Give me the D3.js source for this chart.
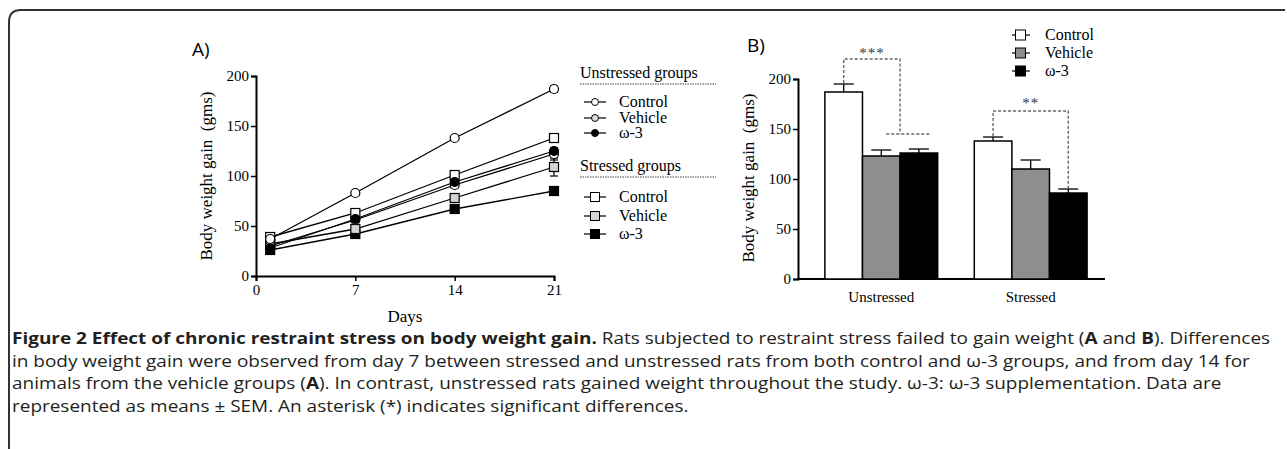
<!DOCTYPE html>
<html><head><meta charset="utf-8">
<script src="https://cdn.jsdelivr.net/npm/d3@7"></script>
<style>body{margin:0;background:#fff;}svg{display:block;}</style>
</head><body>
<svg id="c" width="1287" height="449"></svg>
<script>
// ---------- DATA ----------
const days = [1, 7, 14, 21];
const dayTicks = [0, 7, 14, 21];
const yTicks = [0, 50, 100, 150, 200];
const unstressedControl = [37, 83, 138, 187];
const unstressedVehicle = [30, 56, 91, 122];
const unstressedOmega = [28, 57, 94, 125];
const stressedControl = [39, 63, 101, 138];
const stressedVehicle = [32, 47, 78, 109];
const stressedOmega = [26, 42, 67, 85];
const unstressedControlErr = [2, 2, 2, 3];
const unstressedVehicleErr = [2, 2, 3, 6];
const unstressedOmegaErr = [2, 2, 2, 3];
const stressedControlErr = [2, 2, 2, 3];
const stressedVehicleErr = [2, 2, 4, 9];
const stressedOmegaErr = [2, 2, 2, 3];
const barGroups = ["Unstressed", "Stressed"];
const barSeries = ["Control", "Vehicle", "ω-3"];
const barUnstressed = [187, 123, 126];
const barUnstressedErr = [8, 6, 4];
const barStressed = [138, 110, 86];
const barStressedErr = [4, 9, 4];
const legendNames = ["Control", "Vehicle", "ω-3"];
const captionLines = [
  ["Figure 2 Effect of chronic restraint stress on body weight gain.", " Rats subjected to restraint stress failed to gain weight (", "A", " and ", "B", "). Differences"],
  ["in body weight gain were observed from day 7 between stressed and unstressed rats from both control and ω-3 groups, and from day 14 for"],
  ["animals from the vehicle groups (", "A", "). In contrast, unstressed rats gained weight throughout the study. ω-3: ω-3 supplementation. Data are"],
  ["represented as means ± SEM. An asterisk (*) indicates significant differences."]
];

const svg = d3.select("#c");
const serif = "'Liberation Serif','Times New Roman',serif";
const sans = "'Open Sans','Liberation Sans',sans-serif";

// frame
svg.append("path").attr("d", "M9,449 V22 Q9,10 21,10 H1285")
  .attr("fill", "none").attr("stroke", "#333").attr("stroke-width", 2);

// ---------- PANEL A ----------
const xA = d3.scaleLinear().domain([0, 21]).range([256, 554]);
const yA = d3.scaleLinear().domain([0, 200]).range([276, 76]);
const gA = svg.append("g");
function styleAxis(g) {
  g.selectAll("path.domain").attr("stroke", "#000").attr("stroke-width", 2);
  g.selectAll(".tick line").attr("stroke", "#000").attr("stroke-width", 1.5);
  g.selectAll(".tick text").attr("font-family", serif).attr("font-size", 15).attr("fill", "#000");
}
gA.append("g").attr("transform", "translate(256,0)")
  .call(d3.axisLeft(yA).tickValues(yTicks).tickSizeOuter(0).tickSize(5).tickPadding(2)).call(styleAxis);
gA.append("g").attr("transform", "translate(0,276)")
  .call(d3.axisBottom(xA).tickValues(dayTicks).tickSizeOuter(0).tickSize(5).tickPadding(3)).call(styleAxis);
gA.append("text").attr("x", 405).attr("y", 322).attr("text-anchor", "middle")
  .attr("font-family", serif).attr("font-size", 17).text("Days");
gA.append("text").attr("transform", "translate(212,176) rotate(-90)").attr("text-anchor", "middle")
  .attr("font-family", serif).attr("font-size", 17).attr("xml:space", "preserve").text("Body weight gain  (gms)");
svg.append("text").attr("x", 192).attr("y", 56).attr("font-family", sans).attr("font-size", 19).text("A)");

const seriesA = [
  {v: stressedOmega, e: stressedOmegaErr, shape: "square", fill: "#000"},
  {v: stressedVehicle, e: stressedVehicleErr, shape: "square", fill: "#d4d4d4"},
  {v: stressedControl, e: stressedControlErr, shape: "square", fill: "#fff"},
  {v: unstressedVehicle, e: unstressedVehicleErr, shape: "circle", fill: "#fff"},
  {v: unstressedOmega, e: unstressedOmegaErr, shape: "circle", fill: "#000"},
  {v: unstressedControl, e: unstressedControlErr, shape: "circle", fill: "#fff"}
];
const line = d3.line().x((d, i) => xA(days[i])).y(d => yA(d));
seriesA.forEach(s => {
  gA.append("path").datum(s.v).attr("d", line).attr("fill", "none").attr("stroke", "#000").attr("stroke-width", 1.3);
});
seriesA.forEach(s => {
  s.v.forEach((d, i) => {
    const x = xA(days[i]);
    gA.append("line").attr("x1", x).attr("x2", x).attr("y1", yA(d - s.e[i])).attr("y2", yA(d + s.e[i]))
      .attr("stroke", "#000").attr("stroke-width", 1.2);
    gA.append("line").attr("x1", x - 4).attr("x2", x + 4).attr("y1", yA(d - s.e[i])).attr("y2", yA(d - s.e[i]))
      .attr("stroke", "#000").attr("stroke-width", 1.2);
    gA.append("line").attr("x1", x - 4).attr("x2", x + 4).attr("y1", yA(d + s.e[i])).attr("y2", yA(d + s.e[i]))
      .attr("stroke", "#000").attr("stroke-width", 1.2);
  });
  s.v.forEach((d, i) => {
    const x = xA(days[i]), y = yA(d);
    if (s.shape === "circle") {
      gA.append("circle").attr("cx", x).attr("cy", y).attr("r", 4.5)
        .attr("fill", s.fill).attr("stroke", "#000").attr("stroke-width", 1.2);
    } else {
      gA.append("rect").attr("x", x - 4.5).attr("y", y - 4.5).attr("width", 9).attr("height", 9)
        .attr("fill", s.fill).attr("stroke", "#000").attr("stroke-width", 1.2);
    }
  });
});

// legend A
const legA = svg.append("g");
function legendHeader(txt, y) {
  legA.append("text").attr("x", 580).attr("y", y).attr("font-family", serif).attr("font-size", 16).text(txt);
  legA.append("line").attr("x1", 580).attr("x2", 716).attr("y1", y + 6).attr("y2", y + 6)
    .attr("stroke", "#444").attr("stroke-width", 1).attr("stroke-dasharray", "1.5,1");
}
legendHeader("Unstressed groups", 78);
legendHeader("Stressed groups", 171);
const legAItems = [
  {n: legendNames[0], shape: "circle", fill: "#fff", y: 102},
  {n: legendNames[1], shape: "circle", fill: "#d8d8d8", y: 118},
  {n: legendNames[2], shape: "circle", fill: "#000", y: 133},
  {n: legendNames[0], shape: "square", fill: "#fff", y: 197},
  {n: legendNames[1], shape: "square", fill: "#d4d4d4", y: 216},
  {n: legendNames[2], shape: "square", fill: "#000", y: 234}
];
legAItems.forEach(it => {
  legA.append("line").attr("x1", 584).attr("x2", 606).attr("y1", it.y).attr("y2", it.y).attr("stroke", "#000").attr("stroke-width", 1.2);
  if (it.shape === "circle") {
    legA.append("circle").attr("cx", 595).attr("cy", it.y).attr("r", 3.5).attr("fill", it.fill).attr("stroke", "#000").attr("stroke-width", 1);
  } else {
    legA.append("rect").attr("x", 590.5).attr("y", it.y - 4.5).attr("width", 9).attr("height", 9).attr("fill", it.fill).attr("stroke", "#000").attr("stroke-width", 1);
  }
  legA.append("text").attr("x", 619).attr("y", it.y + 5).attr("font-family", serif).attr("font-size", 16).text(it.n);
});

// ---------- PANEL B ----------
const yB = d3.scaleLinear().domain([0, 200]).range([279, 79]);
const xB = d3.scaleBand().domain(barGroups).range([798, 1105]).paddingInner(0.245).paddingOuter(0.15).align(0.6);
const xSub = d3.scaleBand().domain(barSeries).range([0, xB.bandwidth()]);
const gB = svg.append("g");
gB.append("g").attr("transform", "translate(798,0)")
  .call(d3.axisLeft(yB).tickValues(yTicks).tickSizeOuter(0).tickSize(5).tickPadding(2)).call(styleAxis);
gB.append("line").attr("x1", 797).attr("x2", 1105).attr("y1", 279).attr("y2", 279).attr("stroke", "#000").attr("stroke-width", 2);
barGroups.forEach(gname => {
  gB.append("text").attr("x", xB(gname) + xB.bandwidth() / 2).attr("y", 302).attr("text-anchor", "middle")
    .attr("font-family", serif).attr("font-size", 15).text(gname);
});
svg.append("text").attr("x", 747).attr("y", 52).attr("font-family", sans).attr("font-size", 19).text("B)");
gB.append("text").attr("transform", "translate(754,178) rotate(-90)").attr("text-anchor", "middle")
  .attr("font-family", serif).attr("font-size", 17).attr("xml:space", "preserve").text("Body weight gain  (gms)");

const barFill = {"Control": "#fff", "Vehicle": "#8e8e8e", "ω-3": "#000"};
const barData = [];
barSeries.forEach((s, i) => {
  barData.push({g: "Unstressed", s: s, v: barUnstressed[i], e: barUnstressedErr[i]});
  barData.push({g: "Stressed", s: s, v: barStressed[i], e: barStressedErr[i]});
});
barData.forEach(d => {
  const x0 = xB(d.g) + xSub(d.s), w = xSub.bandwidth(), cx = x0 + w / 2;
  gB.append("line").attr("x1", cx).attr("x2", cx).attr("y1", yB(d.v)).attr("y2", yB(d.v + d.e)).attr("stroke", "#000").attr("stroke-width", 1.3);
  gB.append("line").attr("x1", cx - 10).attr("x2", cx + 10).attr("y1", yB(d.v + d.e)).attr("y2", yB(d.v + d.e)).attr("stroke", "#000").attr("stroke-width", 1.3);
  gB.append("rect").attr("x", x0).attr("y", yB(d.v)).attr("width", w).attr("height", yB(0) - yB(d.v))
    .attr("fill", barFill[d.s]).attr("stroke", "#000").attr("stroke-width", 1.5);
});

// significance brackets
const bc = (g, s) => xB(g) + xSub(s) + xSub.bandwidth() / 2;
const dash = {stroke: "#666", "stroke-width": 1.4, "stroke-dasharray": "3,2", fill: "none"};
function dpath(d) { const p = gB.append("path").attr("d", d); Object.entries(dash).forEach(([k, v]) => p.attr(k, v)); }
const u1 = bc("Unstressed", "Control"), u2 = (bc("Unstressed", "Vehicle") + bc("Unstressed", "ω-3")) / 2;
dpath(`M${u1},${yB(barUnstressed[0] + barUnstressedErr[0]) - 1} V${yB(220)} H${u2} V${yB(145)}`);
dpath(`M${bc("Unstressed", "Vehicle") + 5},${yB(145)} H${bc("Unstressed", "ω-3") + 12}`);
gB.append("text").attr("x", (u1 + u2) / 2).attr("y", yB(220) - 1).attr("text-anchor", "middle")
  .attr("font-family", serif).attr("font-size", 15).attr("fill", "#333").attr("letter-spacing", 1).text("***");
const s1 = bc("Stressed", "Control"), s3 = bc("Stressed", "ω-3");
dpath(`M${s1},${yB(barStressed[0] + barStressedErr[0]) - 1} V${yB(168)} H${s3} V${yB(barStressed[2] + barStressedErr[2]) - 1}`);
gB.append("text").attr("x", (s1 + s3) / 2).attr("y", yB(168) - 3).attr("text-anchor", "middle")
  .attr("font-family", serif).attr("font-size", 15).attr("fill", "#333").attr("letter-spacing", 1).text("**");

// legend B
barSeries.forEach((s, i) => {
  const y = 35 + i * 18;
  gB.append("line").attr("x1", 1012).attr("x2", 1030).attr("y1", y).attr("y2", y).attr("stroke", "#000").attr("stroke-width", 1.2);
  gB.append("rect").attr("x", 1015.5).attr("y", y - 5).attr("width", 10).attr("height", 10).attr("fill", barFill[s]).attr("stroke", "#000").attr("stroke-width", 1);
  gB.append("text").attr("x", 1045).attr("y", y + 5).attr("font-family", serif).attr("font-size", 16).text(legendNames[i]);
});

// ---------- CAPTION ----------
const capScale = 1.157;
const capG = svg.append("g").attr("transform", `scale(${capScale},1)`);
const boldParts = new Set(["Figure 2 Effect of chronic restraint stress on body weight gain.", "A", "B"]);
captionLines.forEach((parts, li) => {
  const t = capG.append("text").attr("x", 12 / capScale).attr("y", 344 + li * 22.7)
    .attr("font-family", sans).attr("font-size", 16.4).attr("fill", "#231f20").attr("xml:space", "preserve");
  parts.forEach(p => t.append("tspan").attr("font-weight", boldParts.has(p) ? "bold" : "normal").text(p));
});
</script>
</body></html>
